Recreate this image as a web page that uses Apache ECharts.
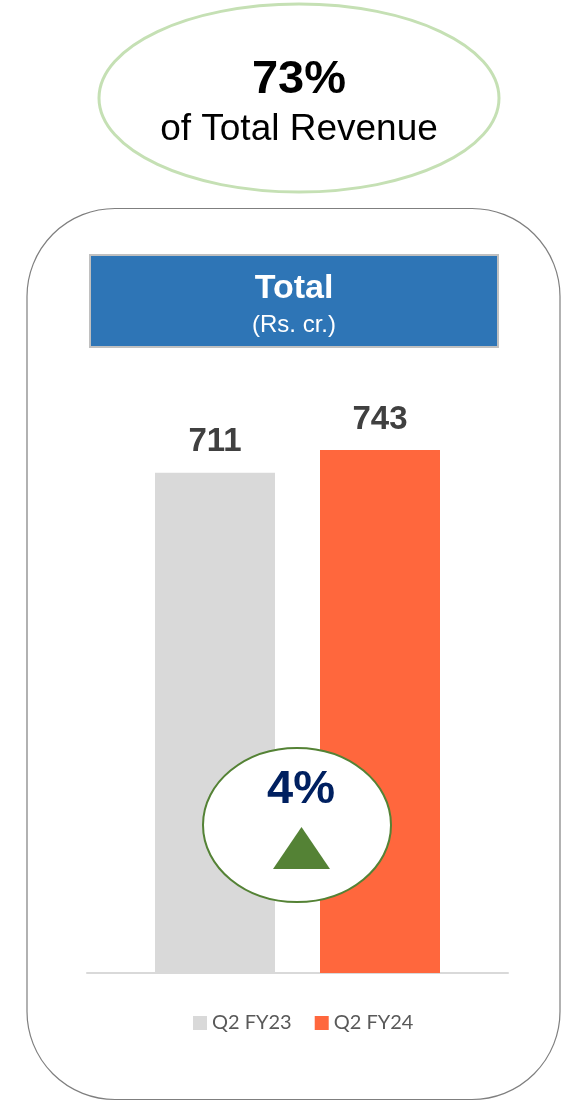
<!DOCTYPE html>
<html>
<head>
<meta charset="utf-8">
<script src="https://cdn.jsdelivr.net/npm/echarts@6/dist/echarts.min.js"></script>
<style>html,body{margin:0;padding:0;background:#fff}#c{width:577px;height:1110px}</style>
</head>
<body>
<div id="c"></div>
<script>
const categories = ['Total'];
const seriesNames = ['Q2 FY23', 'Q2 FY24'];
const fy23Values = [711];
const fy24Values = [743];
const shareText = '73%';
const shareSub = 'of Total Revenue';
const headerTitle = 'Total';
const headerUnit = '(Rs. cr.)';
const growthText = '4%';

const chart = echarts.init(document.getElementById('c'));
const labelStyle = {show: true, position: 'top', distance: 14, fontFamily: 'Liberation Sans', fontWeight: 'bold', fontSize: 33, color: '#404040'};
chart.setOption({
  animation: false,
  grid: {left: 87, right: 69, top: 410, bottom: 137},
  xAxis: {type: 'category', data: categories, axisLine: {lineStyle: {color: '#d9d9d9', width: 2}}, axisTick: {show: false}, axisLabel: {show: false}},
  yAxis: {type: 'value', min: 0, max: 800, show: false, splitLine: {show: false}},
  legend: {
    data: seriesNames, top: 1013, left: 193, padding: 0, itemWidth: 14, itemHeight: 14, itemGap: 23, icon: 'rect',
    textStyle: {fontFamily: 'Lato', fontSize: 20, color: '#595959'}
  },
  series: [
    {name: seriesNames[0], type: 'bar', data: fy23Values, barWidth: 120, barGap: '37.5%', itemStyle: {color: '#d9d9d9'}, label: labelStyle},
    {name: seriesNames[1], type: 'bar', data: fy24Values, barWidth: 120, itemStyle: {color: '#ff673d'}, label: labelStyle}
  ],
  graphic: [
    {type: 'ellipse', shape: {cx: 299, cy: 98, rx: 200, ry: 94}, style: {fill: '#fff', stroke: '#c5e0b4', lineWidth: 3}},
    {type: 'text', x: 299, y: 80, style: {text: shareText, fontFamily: 'Liberation Sans', fontWeight: 'bold', fontSize: 47, fill: '#000', textAlign: 'center', textVerticalAlign: 'middle'}},
    {type: 'text', x: 299, y: 130, style: {text: shareSub, fontFamily: 'Liberation Sans', fontSize: 37, fill: '#000', textAlign: 'center', textVerticalAlign: 'middle'}},
    {type: 'rect', shape: {x: 27, y: 208.5, width: 533, height: 891, r: 88}, style: {fill: 'none', stroke: '#7f7f7f', lineWidth: 1.2}},
    {type: 'rect', shape: {x: 90, y: 255, width: 408, height: 92}, style: {fill: '#2e75b6', stroke: '#c0c0c0', lineWidth: 2}},
    {type: 'text', x: 294, y: 289, style: {text: headerTitle, fontFamily: 'Liberation Sans', fontWeight: 'bold', fontSize: 34, fill: '#fff', textAlign: 'center', textVerticalAlign: 'middle'}},
    {type: 'text', x: 294, y: 325, style: {text: headerUnit, fontFamily: 'Liberation Sans', fontSize: 24, fill: '#fff', textAlign: 'center', textVerticalAlign: 'middle'}},
    {type: 'ellipse', z: 100, shape: {cx: 297, cy: 825, rx: 94, ry: 77}, style: {fill: '#fff', stroke: '#548235', lineWidth: 2}},
    {type: 'text', z: 101, x: 301, y: 790, style: {text: growthText, fontFamily: 'Liberation Sans', fontWeight: 'bold', fontSize: 47, fill: '#002060', textAlign: 'center', textVerticalAlign: 'middle'}},
    {type: 'polygon', z: 101, shape: {points: [[301.5, 827], [273, 869], [330, 869]]}, style: {fill: '#548235'}}
  ]
});
</script>
</body>
</html>
